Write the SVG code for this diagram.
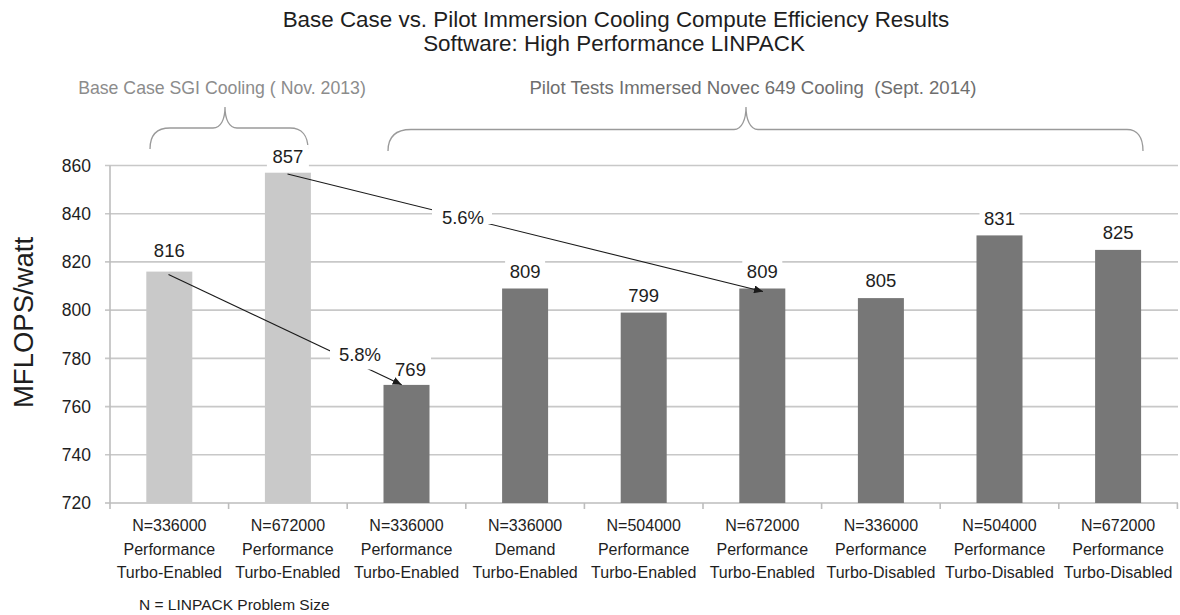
<svg xmlns="http://www.w3.org/2000/svg" width="1180" height="615" viewBox="0 0 1180 615">
<style>
text{font-family:"Liberation Sans",Arial,sans-serif;fill:#1e1e1e}
.title{font-size:22.4px;text-anchor:middle}
.grid{stroke:#c8c8c8;stroke-width:1.6;fill:none}
.axis{stroke:#bdbdbd;stroke-width:1.6;fill:none}
.ytick{font-size:17.5px;text-anchor:end}
.val{font-size:18.5px;text-anchor:middle}
.cat{font-size:16px;text-anchor:middle}
.light{fill:#c9c9c9}
.dark{fill:#777777}
.box{fill:#ffffff}
.brace{stroke:#9a9a9a;stroke-width:1.3;fill:none}
.arrow{stroke:#1a1a1a;stroke-width:1.1;fill:none;marker-end:url(#ah)}
</style>
<defs>
<marker id="ah" markerUnits="userSpaceOnUse" markerWidth="10" markerHeight="8" refX="9" refY="4" orient="auto">
<path d="M0,0 L9,4 L0,8 z" fill="#1a1a1a"/>
</marker>
</defs>
<rect width="1180" height="615" fill="#ffffff"/>

<g id="title">
<text class="title" x="616" y="27">Base Case vs. Pilot Immersion Cooling Compute Efficiency Results</text>
<text class="title" x="614" y="51">Software: High Performance LINPACK</text>
</g>

<g id="brace-base">
<text x="222" y="94" style="font-size:17.7px;text-anchor:middle;fill:#8c8c8c">Base Case SGI Cooling ( Nov. 2013)</text>
<path class="brace" d="M150,149 C150,136 156,128 170,128 L213,128 C221,128 225,119 225,107 C225,119 229,128 237,128 L290,128 C302,128 308,136 308,149"/>
</g>
<g id="brace-pilot">
<text x="753" y="94" style="font-size:18.6px;text-anchor:middle;fill:#6e6e6e" xml:space="preserve">Pilot Tests Immersed Novec 649 Cooling  (Sept. 2014)</text>
<path class="brace" d="M388,151 C388,137 395,129.5 411,129.5 L734,129.5 C742,129.5 746,119 746,107 C746,119 750,129.5 758,129.5 L1127,129.5 C1137,129.5 1143,137 1143,151"/>
</g>

<g id="y-axis">
<text transform="translate(33,322.5) rotate(-90)" style="font-size:27.5px;text-anchor:middle">MFLOPS/watt</text>
<g class="grid">
<line x1="105" y1="165.5" x2="1178" y2="165.5"/>
<line x1="105" y1="213.7" x2="1178" y2="213.7"/>
<line x1="105" y1="261.9" x2="1178" y2="261.9"/>
<line x1="105" y1="310.1" x2="1178" y2="310.1"/>
<line x1="105" y1="358.4" x2="1178" y2="358.4"/>
<line x1="105" y1="406.6" x2="1178" y2="406.6"/>
<line x1="105" y1="454.8" x2="1178" y2="454.8"/>
</g>
<text class="ytick" x="91" y="172">860</text>
<text class="ytick" x="91" y="220">840</text>
<text class="ytick" x="91" y="268">820</text>
<text class="ytick" x="91" y="316">800</text>
<text class="ytick" x="91" y="364.5">780</text>
<text class="ytick" x="91" y="413">760</text>
<text class="ytick" x="91" y="461">740</text>
<text class="ytick" x="91" y="509">720</text>
<line class="axis" x1="110" y1="165.5" x2="110" y2="503"/>
</g>

<g id="x-axis">
<line class="axis" x1="105" y1="503" x2="1178" y2="503"/>
<g class="axis">
<line x1="110" y1="503" x2="110" y2="509"/>
<line x1="228.6" y1="503" x2="228.6" y2="509"/>
<line x1="347.2" y1="503" x2="347.2" y2="509"/>
<line x1="465.8" y1="503" x2="465.8" y2="509"/>
<line x1="584.4" y1="503" x2="584.4" y2="509"/>
<line x1="703" y1="503" x2="703" y2="509"/>
<line x1="821.6" y1="503" x2="821.6" y2="509"/>
<line x1="940.2" y1="503" x2="940.2" y2="509"/>
<line x1="1058.8" y1="503" x2="1058.8" y2="509"/>
<line x1="1177.4" y1="503" x2="1177.4" y2="509"/>
</g>
</g>

<g id="bar1">
<rect class="light" x="146.3" y="271.6" width="46" height="231.4"/>
<rect class="box" x="147.3" y="241" width="44" height="19.5"/>
<text class="val" x="169.3" y="257">816</text>
<text class="cat" x="169.3" y="531">N=336000</text>
<text class="cat" x="169.3" y="555">Performance</text>
<text class="cat" x="169.3" y="578">Turbo-Enabled</text>
</g>
<g id="bar2">
<rect class="light" x="264.9" y="172.7" width="46" height="330.3"/>
<rect class="box" x="266.9" y="145" width="42" height="22"/>
<text class="val" x="287.9" y="163">857</text>
<text class="cat" x="287.9" y="531">N=672000</text>
<text class="cat" x="287.9" y="555">Performance</text>
<text class="cat" x="287.9" y="578">Turbo-Enabled</text>
</g>
<g id="bar3">
<rect class="dark" x="383.5" y="384.9" width="46" height="118.1"/>
<rect class="box" x="390" y="356" width="41" height="23"/>
<text class="val" x="410.5" y="376">769</text>
<text class="cat" x="406.5" y="531">N=336000</text>
<text class="cat" x="406.5" y="555">Performance</text>
<text class="cat" x="406.5" y="578">Turbo-Enabled</text>
</g>
<g id="bar4">
<rect class="dark" x="502.1" y="288.5" width="46" height="214.5"/>
<rect class="box" x="505.1" y="258.5" width="40" height="23"/>
<text class="val" x="525.1" y="278">809</text>
<text class="cat" x="525.1" y="531">N=336000</text>
<text class="cat" x="525.1" y="555">Demand</text>
<text class="cat" x="525.1" y="578">Turbo-Enabled</text>
</g>
<g id="bar5">
<rect class="dark" x="620.7" y="312.6" width="46" height="190.4"/>
<rect class="box" x="623.7" y="284" width="40" height="22"/>
<text class="val" x="643.7" y="302">799</text>
<text class="cat" x="643.7" y="531">N=504000</text>
<text class="cat" x="643.7" y="555">Performance</text>
<text class="cat" x="643.7" y="578">Turbo-Enabled</text>
</g>
<g id="bar6">
<rect class="dark" x="739.3" y="288.5" width="46" height="214.5"/>
<rect class="box" x="742.3" y="258.5" width="40" height="23"/>
<text class="val" x="762.3" y="278">809</text>
<text class="cat" x="762.3" y="531">N=672000</text>
<text class="cat" x="762.3" y="555">Performance</text>
<text class="cat" x="762.3" y="578">Turbo-Enabled</text>
</g>
<g id="bar7">
<rect class="dark" x="857.9" y="298.1" width="46" height="204.9"/>
<rect class="box" x="860.9" y="269" width="40" height="22"/>
<text class="val" x="880.9" y="287">805</text>
<text class="cat" x="880.9" y="531">N=336000</text>
<text class="cat" x="880.9" y="555">Performance</text>
<text class="cat" x="880.9" y="578">Turbo-Disabled</text>
</g>
<g id="bar8">
<rect class="dark" x="976.5" y="235.4" width="46" height="267.6"/>
<rect class="box" x="979.5" y="207" width="40" height="22"/>
<text class="val" x="999.5" y="225">831</text>
<text class="cat" x="999.5" y="531">N=504000</text>
<text class="cat" x="999.5" y="555">Performance</text>
<text class="cat" x="999.5" y="578">Turbo-Disabled</text>
</g>
<g id="bar9">
<rect class="dark" x="1095.1" y="249.9" width="46" height="253.1"/>
<rect class="box" x="1098.1" y="221" width="40" height="22"/>
<text class="val" x="1118.1" y="239">825</text>
<text class="cat" x="1118.1" y="531">N=672000</text>
<text class="cat" x="1118.1" y="555">Performance</text>
<text class="cat" x="1118.1" y="578">Turbo-Disabled</text>
</g>

<g id="connectors">
<line class="arrow" x1="168.5" y1="274.5" x2="401.7" y2="384.8"/>
<line class="arrow" x1="287.5" y1="174" x2="763" y2="291.5"/>
</g>

<g id="label-5-8">
<rect class="box" x="330" y="341" width="62" height="28.5"/>
<text class="val" x="360" y="361">5.8%</text>
</g>
<g id="label-5-6">
<rect class="box" x="432" y="204" width="60" height="20"/>
<text class="val" x="463" y="224">5.6%</text>
</g>

<g id="footnote">
<text x="139" y="610" style="font-size:15.5px">N = LINPACK Problem Size</text>
</g>
</svg>
